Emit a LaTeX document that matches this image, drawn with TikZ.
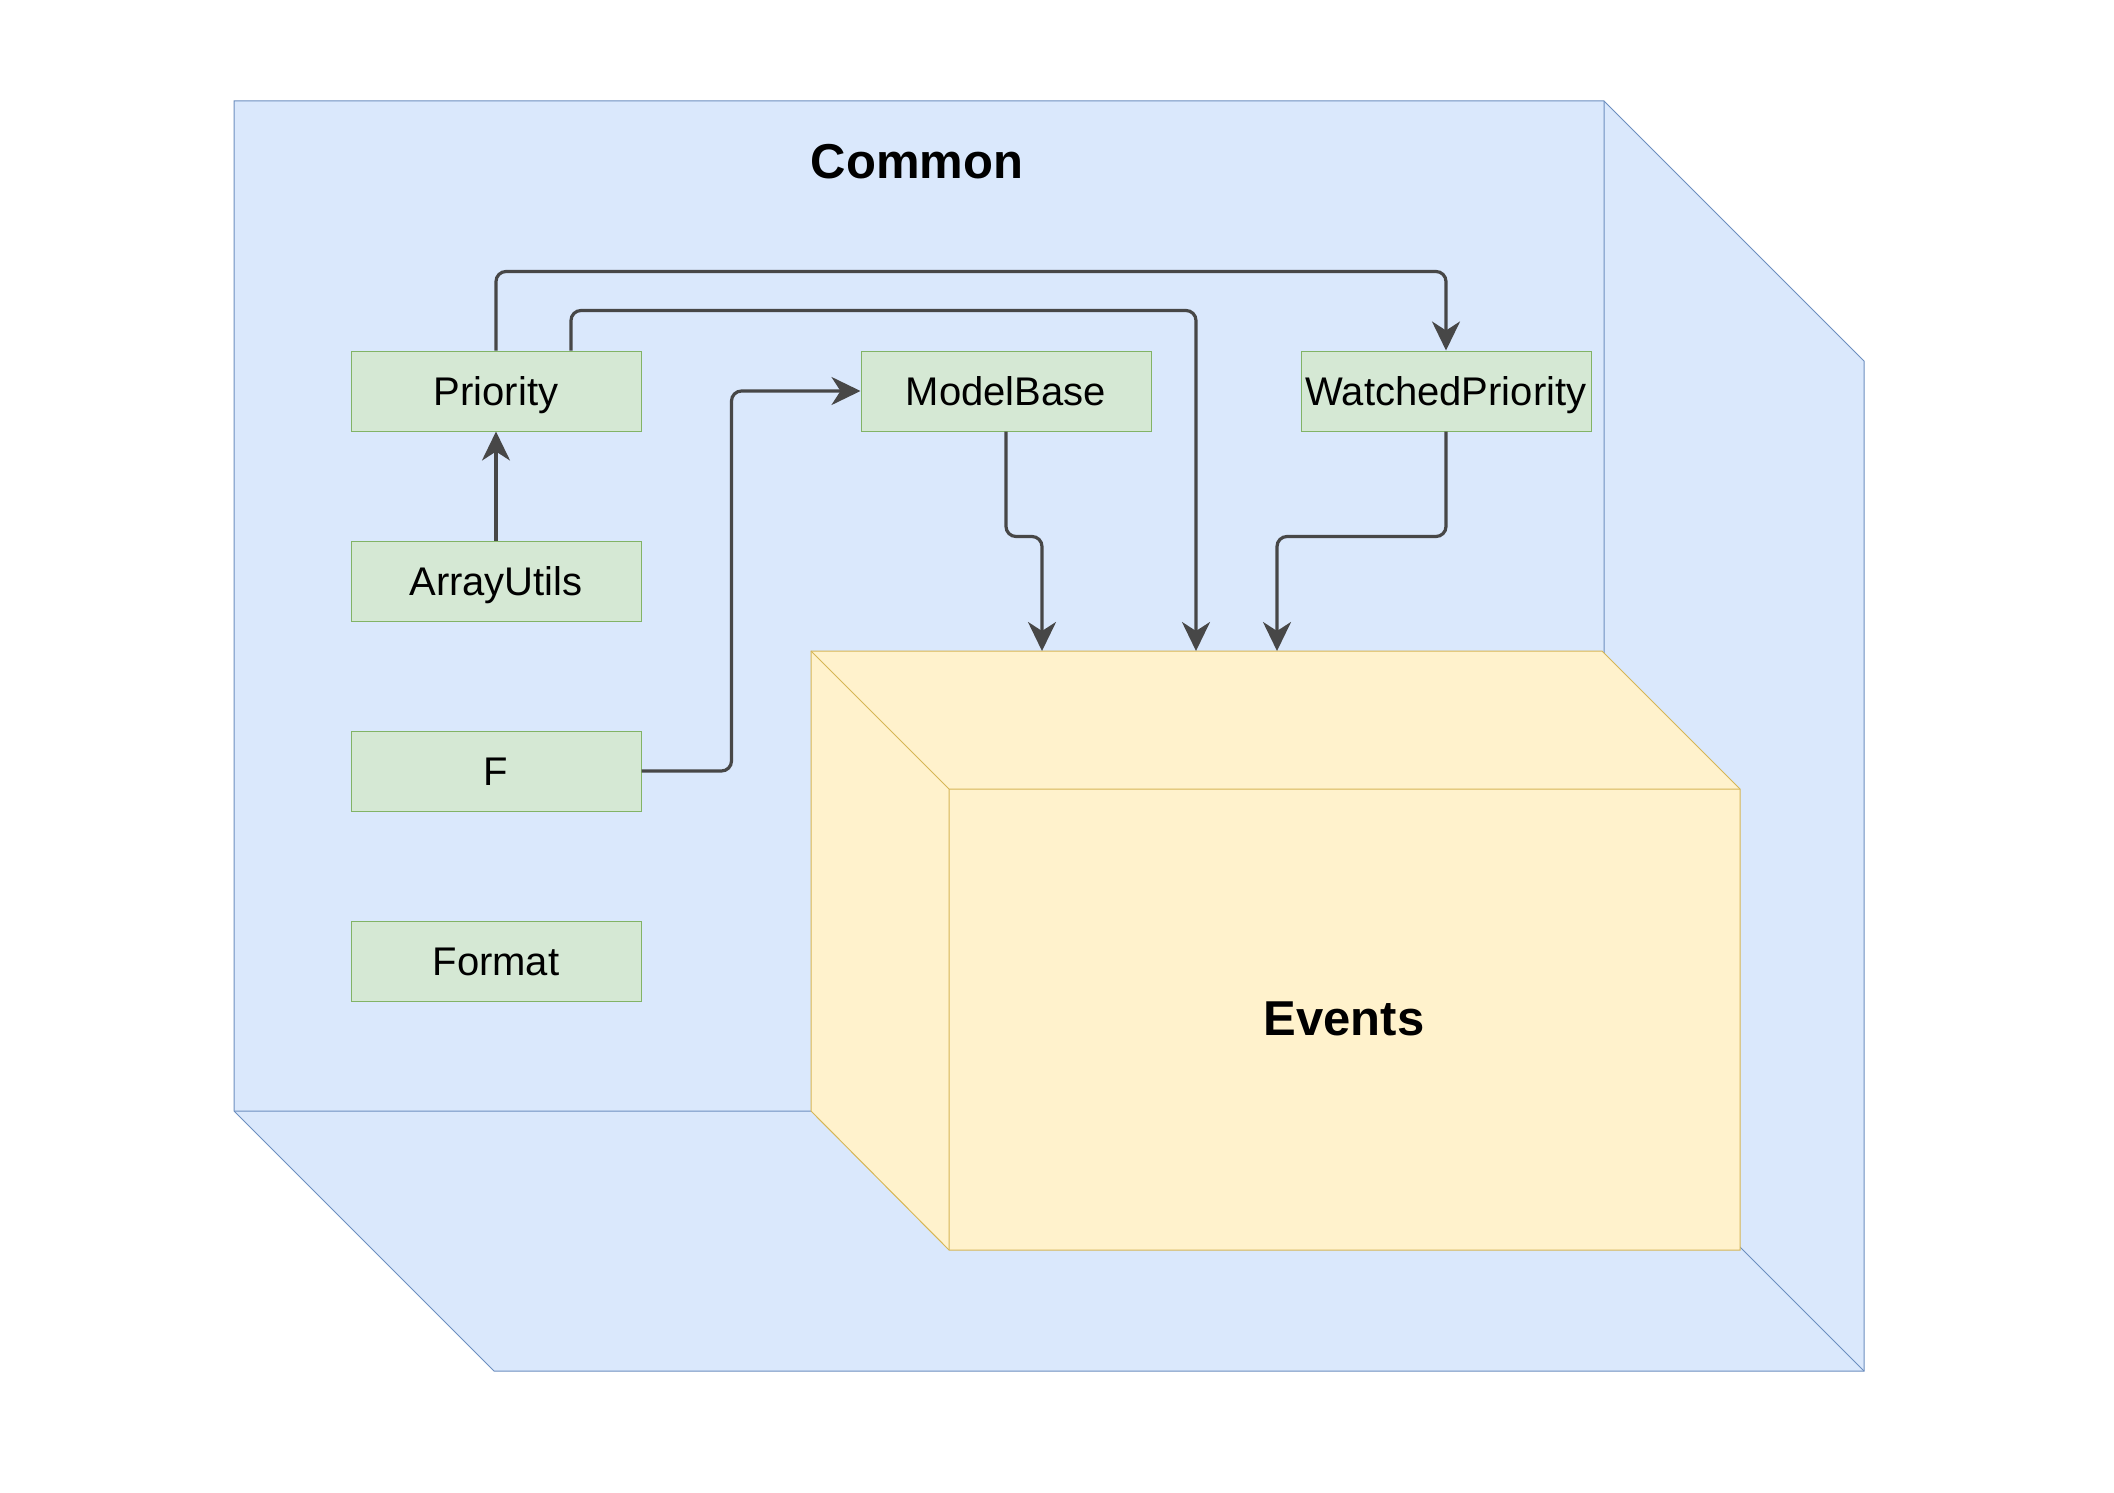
\documentclass[tikz,border=0pt]{standalone}
\usepackage{fontspec}
\setmainfont{Liberation Sans}
\usetikzlibrary{arrows.meta}

\definecolor{commonfill}{HTML}{DAE8FC}
\definecolor{commonline}{HTML}{6C8EBF}
\definecolor{eventsfill}{HTML}{FFF2CC}
\definecolor{eventsline}{HTML}{D6B656}
\definecolor{classfill}{HTML}{D5E8D4}
\definecolor{classline}{HTML}{82B366}
\definecolor{wire}{HTML}{474747}

\tikzset{
  cls/.style={draw=classline, fill=classfill, line width=0.5pt, minimum width=145pt, minimum height=40pt, inner sep=0pt, text height=18pt, text depth=4pt, font=\fontsize{20}{24}\selectfont},
  conn/.style={draw=wire, line width=1.6pt, rounded corners=5pt, -{Stealth[length=14.5pt,width=14pt,inset=4.5pt]}},
  pkg/.style={font=\fontsize{24.5}{29}\selectfont\bfseries},
}

\begin{document}
\begin{tikzpicture}[x=0.5pt,y=-0.5pt]
    \useasboundingbox (0,0) rectangle (2114,1493);

    %Package Common
    \filldraw[fill=commonfill, draw=commonline, line width=0.5pt] (234,101) -- (1604,101) -- (1864,361) -- (1864,1371) -- (494,1371) -- (234,1111) -- cycle;
    \draw[commonline, line width=0.5pt] (1604,101) -- (1604,1111) -- (234,1111) (1604,1111) -- (1864,1371);
    \node[pkg] (common) at (917,162) {Common};

    %Package Events
    \filldraw[fill=eventsfill, draw=eventsline, line width=0.5pt] (811,651) -- (1602,651) -- (1740,789) -- (1740,1250) -- (949,1250) -- (811,1111) -- cycle;
    \draw[eventsline, line width=0.5pt] (811,651) -- (949,789) -- (1740,789) (949,789) -- (949,1250);
    \node[pkg] (events) at (1344,1019) {Events};
    \coordinate (ev1) at (1042,651);
    \coordinate (ev2) at (1196,651);
    \coordinate (ev3) at (1277,651);

    %Classes
    \node[cls] (priority)   at (496,391)  {Priority};
    \node[cls] (arrayutils) at (496,581)  {ArrayUtils};
    \node[cls] (f)          at (496,771)  {F};
    \node[cls] (format)     at (496,961)  {Format};
    \node[cls] (modelbase)  at (1006,391) {ModelBase};
    \node[cls] (watched)    at (1446,391) {WatchedPriority};

    %Dependencies
    \draw[conn] (arrayutils) -- (priority);
    \draw[conn] (priority.north) -- ++(0,-79) -| (watched.north);
    \draw[conn] ([xshift=37.5pt]priority.north) -- ++(0,-40) -| (ev2);
    \draw[conn] (f.east) -- ++(90,0) |- (modelbase.west);
    \draw[conn] (modelbase.south) -- ++(0,105) -| (ev1);
    \draw[conn] (watched.south) -- ++(0,105) -| (ev3);
\end{tikzpicture}
\end{document}
